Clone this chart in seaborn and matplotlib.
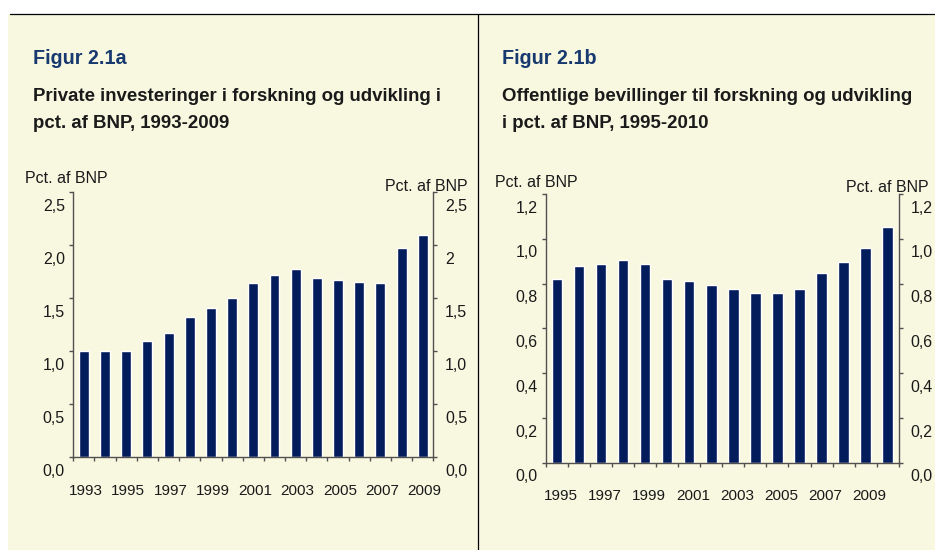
import matplotlib
matplotlib.use('Agg')
import seaborn as sns
import matplotlib.pyplot as plt
from matplotlib.lines import Line2D
from matplotlib.patches import Rectangle
from matplotlib.transforms import ScaledTranslation
import pandas as pd
import numpy as np

# data
years_a = list(range(1993, 2010))
private_rd = [1.00, 1.00, 1.00, 1.10, 1.17, 1.32, 1.41, 1.50, 1.64, 1.72,
              1.78, 1.69, 1.67, 1.65, 1.64, 1.97, 2.10]
yticks_a = [0.0, 0.5, 1.0, 1.5, 2.0, 2.5]
yticklabels_a_left = ["0,0", "0,5", "1,0", "1,5", "2,0", "2,5"]
yticklabels_a_right = ["0,0", "0,5", "1,0", "1,5", "2", "2,5"]

years_b = list(range(1995, 2011))
public_rd = [0.820, 0.878, 0.887, 0.905, 0.887, 0.820, 0.811, 0.794, 0.776,
             0.758, 0.758, 0.776, 0.847, 0.896, 0.959, 1.053]
yticks_b = [0.0, 0.2, 0.4, 0.6, 0.8, 1.0, 1.2]
yticklabels_b = ["0,0", "0,2", "0,4", "0,6", "0,8", "1,0", "1,2"]

BEIGE = "#f8f8e1"
NAVY = "#031c5b"
TITLE_BLUE = "#17396f"
AXIS = "#505050"
TEXT = "#1a1a1a"

sns.set_theme(style="ticks")
plt.rcParams['font.family'] = ['Liberation Sans', 'DejaVu Sans']

W, H = 935, 550
fig = plt.figure(figsize=(W / 100, H / 100), dpi=100, facecolor="white")


def fx(px):
    return px / W


def fy(py):
    return 1 - py / H


# background panel and frame lines
fig.add_artist(Rectangle((fx(8), 0), 1 - fx(8), fy(14), transform=fig.transFigure,
                         facecolor=BEIGE, edgecolor="none", zorder=-10))
fig.add_artist(Line2D([fx(10), 1], [fy(14), fy(14)], transform=fig.transFigure,
                      color="black", lw=0.9))
fig.add_artist(Line2D([fx(478), fx(478)], [0, fy(14)], transform=fig.transFigure,
                      color="black", lw=0.9))


def panel(rect, years, values, yticks, left_labels, right_labels, ymax,
          xpad, xshift):
    ax = fig.add_axes(rect)
    ax.set_facecolor("none")
    df = pd.DataFrame({"year": [str(y) for y in years], "value": values})
    sns.barplot(data=df, x="year", y="value", color=NAVY, saturation=1,
                width=0.47, ax=ax)
    n = len(years)
    ax.set_xlim(-0.5, n - 0.5)
    ax.set_ylim(0, ymax)
    ax.set_xlabel("")
    ax.set_ylabel("")

    # boundary ticks without labels, year labels every other bar
    ax.set_xticks(np.arange(n + 1) - 0.5)
    ax.set_xticklabels([])
    lab_pos = [i for i, y in enumerate(years) if y % 2 == 1 and y < 2010]
    ax.set_xticks(lab_pos, minor=True)
    ax.set_xticklabels([str(years[i]) for i in lab_pos], minor=True)
    ax.tick_params(axis="x", which="major", direction="out", length=3,
                   width=1, color=AXIS)
    ax.tick_params(axis="x", which="minor", length=0, pad=xpad, labelsize=11,
                   labelcolor=TEXT)

    ax.set_yticks(yticks)
    ax.set_yticklabels(left_labels)
    ax.tick_params(axis="y", direction="out", length=3, width=1, color=AXIS,
                   pad=3, labelsize=11.5, labelcolor=TEXT)

    ax2 = ax.twinx()
    ax2.set_ylim(0, ymax)
    ax2.set_yticks(yticks)
    ax2.set_yticklabels(right_labels)
    ax2.tick_params(axis="y", direction="out", length=3, width=1, color=AXIS,
                    pad=5.4, labelsize=11.5, labelcolor=TEXT)

    for a in (ax, ax2):
        a.spines["top"].set_visible(False)
        for s in ("left", "right", "bottom"):
            a.spines[s].set_color(AXIS)
            a.spines[s].set_linewidth(1)
    ax2.spines["left"].set_visible(False)
    ax2.spines["bottom"].set_visible(False)
    ax.spines["right"].set_visible(False)

    # tick labels sit a bit below their ticks in the original
    shift = ScaledTranslation(0, -12.7 / 100, fig.dpi_scale_trans)
    for lab in ax.get_yticklabels() + ax2.get_yticklabels():
        lab.set_transform(lab.get_transform() + shift)
    xs = ScaledTranslation(xshift / 100, 0, fig.dpi_scale_trans)
    for lab in ax.get_xticklabels(minor=True):
        lab.set_transform(lab.get_transform() + xs)
    return ax


panel([fx(73.3), fy(457.3), fx(433.3) - fx(73.3), (457.3 - 192.3) / H],
      years_a, private_rd, yticks_a, yticklabels_a_left, yticklabels_a_right,
      2.5, 19.5, 2)
panel([fx(546), fy(462.7), fx(898.7) - fx(546), (462.7 - 194) / H],
      years_b, public_rd, yticks_b, yticklabels_b, yticklabels_b,
      1.2, 18.6, 4)

# titles
fig.text(fx(33), fy(64), "Figur 2.1a", color=TITLE_BLUE, fontsize=14.2,
         fontweight="bold", va="baseline")
fig.text(fx(33), fy(101), "Private investeringer i forskning og udvikling i",
         color=TEXT, fontsize=13.4, fontweight="bold", va="baseline")
fig.text(fx(33), fy(128), "pct. af BNP, 1993-2009",
         color=TEXT, fontsize=13.4, fontweight="bold", va="baseline")

fig.text(fx(502), fy(64), "Figur 2.1b", color=TITLE_BLUE, fontsize=14.2,
         fontweight="bold", va="baseline")
fig.text(fx(502), fy(101), "Offentlige bevillinger til forskning og udvikling",
         color=TEXT, fontsize=13.4, fontweight="bold", va="baseline")
fig.text(fx(502), fy(128), "i pct. af BNP, 1995-2010",
         color=TEXT, fontsize=13.4, fontweight="bold", va="baseline")

# axis unit labels
fig.text(fx(25), fy(183), "Pct. af BNP", color=TEXT, fontsize=11.5, va="baseline")
fig.text(fx(468), fy(190.7), "Pct. af BNP", color=TEXT, fontsize=11.5,
         va="baseline", ha="right")
fig.text(fx(495), fy(187.3), "Pct. af BNP", color=TEXT, fontsize=11.5,
         va="baseline")
fig.text(fx(929), fy(191.7), "Pct. af BNP", color=TEXT, fontsize=11.5,
         va="baseline", ha="right")

fig.savefig("out.png", dpi=100, facecolor=fig.get_facecolor())
